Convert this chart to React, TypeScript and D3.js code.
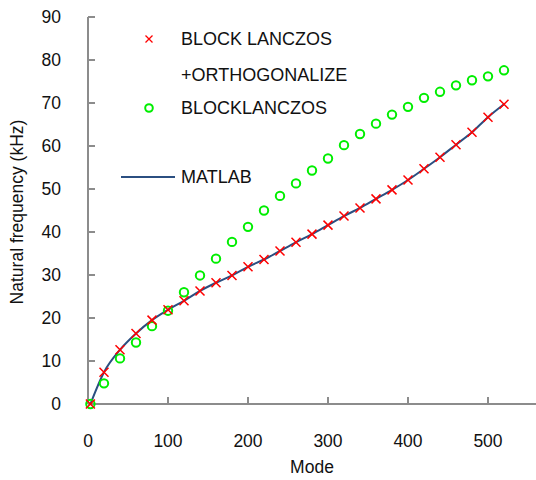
import React, { useRef, useEffect } from "react";
import * as d3 from "d3";

/* mode numbers */
const modes = [
  3, 20, 40, 60, 80, 100, 120, 140, 160, 180, 200, 220, 240, 260, 280, 300,
  320, 340, 360, 380, 400, 420, 440, 460, 480, 500, 520,
];

/* BLOCK LANCZOS + ORTHOGONALIZE (kHz) */
const orthoFreq = [
  0, 7.4, 12.6, 16.4, 19.5, 21.9, 24.0, 26.3, 28.2, 29.9, 31.9, 33.6, 35.6,
  37.6, 39.5, 41.6, 43.7, 45.6, 47.7, 49.8, 52.1, 54.7, 57.4, 60.3, 63.2, 66.7,
  69.7,
];

/* BLOCKLANCZOS (kHz) */
const blockFreq = [
  0, 4.8, 10.6, 14.3, 18.1, 21.7, 26.0, 29.9, 33.8, 37.7, 41.2, 45.0, 48.4,
  51.3, 54.3, 57.1, 60.2, 62.8, 65.2, 67.3, 69.1, 71.2, 72.6, 74.1, 75.3, 76.2,
  77.6,
];

/* MATLAB reference (kHz) */
const matlabFreq = orthoFreq;

const xTicks = [0, 100, 200, 300, 400, 500];
const yTicks = [0, 10, 20, 30, 40, 50, 60, 70, 80, 90];

const FONT = "'Liberation Sans', Arial, sans-serif";

const App = () => {
  const svgRef = useRef(null);

  const drawChart = () => {
    const width = 536;
    const height = 480;
    const svg = d3.select(svgRef.current);
    svg.selectAll("*").remove();
    svg.attr("width", width).attr("height", height);

    const x = d3.scaleLinear().domain([0, 560]).range([88, 536]);
    const y = d3.scaleLinear().domain([0, 90]).range([404, 17]);
    const axisColor = "#8c8c8c";

    /* axis lines */
    svg
      .append("line")
      .attr("x1", x(0))
      .attr("x2", x(560))
      .attr("y1", y(0))
      .attr("y2", y(0))
      .attr("stroke", axisColor)
      .attr("stroke-width", 2);
    svg
      .append("line")
      .attr("x1", x(0))
      .attr("x2", x(0))
      .attr("y1", y(0))
      .attr("y2", y(90))
      .attr("stroke", axisColor)
      .attr("stroke-width", 2);

    /* x ticks (inward) */
    svg
      .selectAll(".xtick")
      .data(xTicks.filter((d) => d > 0))
      .enter()
      .append("line")
      .attr("x1", (d) => x(d))
      .attr("x2", (d) => x(d))
      .attr("y1", y(0))
      .attr("y2", y(0) - 7)
      .attr("stroke", axisColor)
      .attr("stroke-width", 2);
    svg
      .selectAll(".xlabel")
      .data(xTicks)
      .enter()
      .append("text")
      .attr("x", (d) => x(d))
      .attr("y", 447)
      .attr("text-anchor", "middle")
      .style("font-family", FONT)
      .style("font-size", "17.5px")
      .attr("fill", "#111")
      .text((d) => d);

    /* y ticks (inward) */
    svg
      .selectAll(".ytick")
      .data(yTicks)
      .enter()
      .append("line")
      .attr("x1", x(0))
      .attr("x2", x(0) + 7)
      .attr("y1", (d) => y(d))
      .attr("y2", (d) => y(d))
      .attr("stroke", axisColor)
      .attr("stroke-width", 2);
    svg
      .selectAll(".ylabel")
      .data(yTicks)
      .enter()
      .append("text")
      .attr("x", 61)
      .attr("y", (d) => y(d))
      .attr("dy", "0.35em")
      .attr("text-anchor", "end")
      .style("font-family", FONT)
      .style("font-size", "17.5px")
      .attr("fill", "#111")
      .text((d) => d);

    /* axis titles */
    svg
      .append("text")
      .attr("x", 312)
      .attr("y", 473)
      .attr("text-anchor", "middle")
      .style("font-family", FONT)
      .style("font-size", "17.5px")
      .attr("fill", "#111")
      .text("Mode");
    svg
      .append("text")
      .attr("transform", "translate(23, 212) rotate(-90)")
      .attr("text-anchor", "middle")
      .style("font-family", FONT)
      .style("font-size", "17.5px")
      .attr("fill", "#111")
      .text("Natural frequency (kHz)");

    /* MATLAB line */
    const line = d3
      .line()
      .x((d) => x(d[0]))
      .y((d) => y(d[1]))
      .curve(d3.curveMonotoneX);
    svg
      .append("path")
      .datum(modes.map((m, i) => [m, matlabFreq[i]]))
      .attr("fill", "none")
      .attr("stroke", "#2b4f81")
      .attr("stroke-width", 2)
      .attr("d", line);

    /* green circles */
    svg
      .selectAll(".circ")
      .data(modes.map((m, i) => [m, blockFreq[i]]))
      .enter()
      .append("circle")
      .attr("cx", (d) => x(d[0]))
      .attr("cy", (d) => y(d[1]))
      .attr("r", 4.2)
      .attr("fill", "none")
      .attr("stroke", "#00ee00")
      .attr("stroke-width", 2);

    /* red crosses */
    const cross = (s) => `M${-s},${-s}L${s},${s}M${-s},${s}L${s},${-s}`;
    svg
      .selectAll(".cross")
      .data(modes.map((m, i) => [m, orthoFreq[i]]))
      .enter()
      .append("path")
      .attr("transform", (d) => `translate(${x(d[0])}, ${y(d[1])})`)
      .attr("d", cross(4.5))
      .attr("fill", "none")
      .attr("stroke", "#ff0000")
      .attr("stroke-width", 1.5);

    /* legend */
    const legend = svg.append("g");
    legend
      .append("path")
      .attr("transform", "translate(149, 39)")
      .attr("d", cross(3.5))
      .attr("stroke", "#ff0000")
      .attr("stroke-width", 1.3);
    legend
      .append("circle")
      .attr("cx", 149)
      .attr("cy", 108)
      .attr("r", 3.8)
      .attr("fill", "none")
      .attr("stroke", "#00ee00")
      .attr("stroke-width", 2);
    legend
      .append("line")
      .attr("x1", 121)
      .attr("x2", 175)
      .attr("y1", 177)
      .attr("y2", 177)
      .attr("stroke", "#2b4f81")
      .attr("stroke-width", 2);

    const labels = [
      ["BLOCK LANCZOS", 39],
      ["+ORTHOGONALIZE", 75],
      ["BLOCKLANCZOS", 108],
      ["MATLAB", 177],
    ];
    legend
      .selectAll(".leg")
      .data(labels)
      .enter()
      .append("text")
      .attr("x", 181)
      .attr("y", (d) => d[1])
      .attr("dy", "0.36em")
      .style("font-family", FONT)
      .style("font-size", "18px")
      .attr("fill", "#111")
      .text((d) => d[0]);
  };

  useEffect(() => {
    drawChart();
  }, []);

  return (
    <svg
      ref={svgRef}
      style={{ position: "absolute", left: 0, top: 0, background: "#fff" }}
    />
  );
};

export default App;
